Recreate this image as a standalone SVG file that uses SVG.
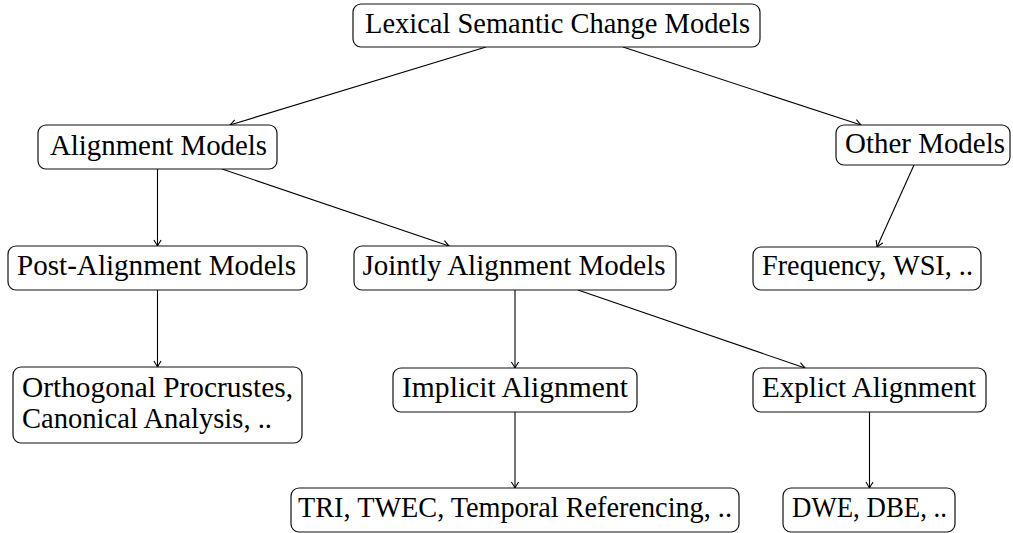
<svg xmlns="http://www.w3.org/2000/svg" width="1013" height="533" viewBox="0 0 1013 533">
<style>
.box{fill:#fff;stroke:#111;stroke-width:1.2}
.t{font-family:"Liberation Serif","Times New Roman",serif;font-size:29px;fill:#000;text-anchor:middle}
.tl{font-family:"Liberation Serif","Times New Roman",serif;font-size:29px;fill:#000}
.e{stroke:#000;stroke-width:1.1;fill:none;marker-end:url(#arr)}
</style>
<defs>
<marker id="arr" markerUnits="userSpaceOnUse" viewBox="-8 -5 10 10" refX="0" refY="0" markerWidth="10" markerHeight="10" orient="auto">
<path d="M-6,-3.6 Q-2,-1 0,0 Q-2,1 -6,3.6" stroke="#000" stroke-width="1.1" fill="none"/>
</marker>
</defs>
<g id="connectors">
<path class="e" d="M486,47 L230,125"/>
<path class="e" d="M623,47 L861,125"/>
<path class="e" d="M157.5,169 L157.5,246"/>
<path class="e" d="M222,169 L449,246"/>
<path class="e" d="M914,165 L877,247"/>
<path class="e" d="M157.5,290 L157.5,367"/>
<path class="e" d="M515,290 L515,368"/>
<path class="e" d="M578,290 L805,368"/>
<path class="e" d="M515,412 L515,488"/>
<path class="e" d="M869.5,412 L869.5,488"/>
</g>
<g id="n-lexical"><rect class="box" x="353" y="4" width="407" height="43" rx="8"/><text class="t" x="557.5" y="33" textLength="385" lengthAdjust="spacingAndGlyphs">Lexical Semantic Change Models</text></g>
<g id="n-alignment"><rect class="box" x="38" y="125" width="239" height="44" rx="8"/><text class="t" x="158.5" y="155" textLength="217" lengthAdjust="spacingAndGlyphs">Alignment Models</text></g>
<g id="n-other"><rect class="box" x="836" y="125" width="174" height="40" rx="8"/><text class="t" x="925" y="153" textLength="160" lengthAdjust="spacingAndGlyphs">Other Models</text></g>
<g id="n-post"><rect class="box" x="8" y="246" width="299" height="44" rx="8"/><text class="t" x="156.5" y="275" textLength="279" lengthAdjust="spacingAndGlyphs">Post-Alignment Models</text></g>
<g id="n-jointly"><rect class="box" x="354" y="246" width="322" height="44" rx="8"/><text class="t" x="514" y="275" textLength="303" lengthAdjust="spacingAndGlyphs">Jointly Alignment Models</text></g>
<g id="n-frequency"><rect class="box" x="753" y="247" width="228" height="43" rx="8"/><text class="t" x="867.5" y="275" textLength="211" lengthAdjust="spacingAndGlyphs">Frequency, WSI, ..</text></g>
<g id="n-orthogonal"><rect class="box" x="13" y="367" width="289" height="76" rx="8"/><text class="tl" x="22" y="397" textLength="271" lengthAdjust="spacingAndGlyphs">Orthogonal Procrustes,</text><text class="tl" x="22" y="428" textLength="250" lengthAdjust="spacingAndGlyphs">Canonical Analysis, ..</text></g>
<g id="n-implicit"><rect class="box" x="393" y="368" width="244" height="44" rx="8"/><text class="t" x="515" y="397" textLength="226" lengthAdjust="spacingAndGlyphs">Implicit Alignment</text></g>
<g id="n-explicit"><rect class="box" x="753" y="368" width="233" height="44" rx="8"/><text class="t" x="869" y="397" textLength="214" lengthAdjust="spacingAndGlyphs">Explict Alignment</text></g>
<g id="n-tri"><rect class="box" x="291" y="488" width="448" height="44" rx="8"/><text class="t" x="515" y="517" textLength="434" lengthAdjust="spacingAndGlyphs">TRI, TWEC, Temporal Referencing, ..</text></g>
<g id="n-dwe"><rect class="box" x="783" y="488" width="172" height="44" rx="8"/><text class="t" x="869.5" y="517" textLength="155" lengthAdjust="spacingAndGlyphs">DWE, DBE, ..</text></g>
</svg>
